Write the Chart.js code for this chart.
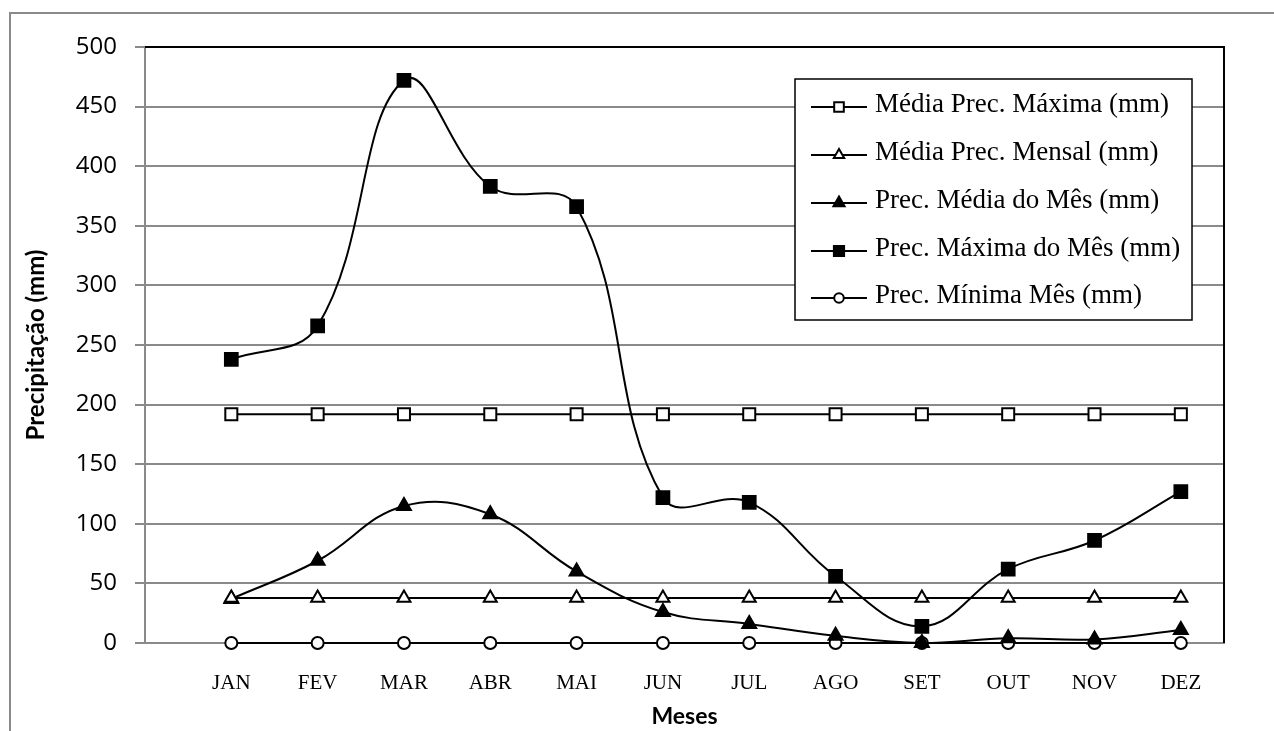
<!DOCTYPE html>
<html><head><meta charset="utf-8">
<script src="https://cdn.jsdelivr.net/npm/chart.js@4.4.1/dist/chart.umd.min.js"></script>
<style>html,body{margin:0;padding:0;background:#fff}canvas{display:block}</style>
</head><body>
<canvas id="c" width="1274" height="731"></canvas>
<script>
const months = ['JAN','FEV','MAR','ABR','MAI','JUN','JUL','AGO','SET','OUT','NOV','DEZ'];
const mediaPrecMaxima = [192,192,192,192,192,192,192,192,192,192,192,192];
const mediaPrecMensal = [37.7,37.7,37.7,37.7,37.7,37.7,37.7,37.7,37.7,37.7,37.7,37.7];
const precMediaMes   = [37,69,115,108,60,26,16,6,0,4,3,11];
const precMaximaMes  = [238,266,472,383,366,122,118,56,14,62,86,127];
const precMinimaMes  = [0,0,0,0,0,0,0,0,0,0,0,0];
const yTicks = [0,50,100,150,200,250,300,350,400,450,500];
const seriesNames = ['Média Prec. Máxima (mm)','Média Prec. Mensal (mm)','Prec. Média do Mês (mm)','Prec. Máxima do Mês (mm)','Prec. Mínima Mês (mm)'];

const pts = arr => arr.map((v,i)=>({x:i+1,y:v}));
const base = {borderColor:'#000',borderWidth:2,pointBorderColor:'#000',pointBorderWidth:2,clip:false,fill:false};

const datasets = [
  Object.assign({}, base, {label:seriesNames[0], data:pts(mediaPrecMaxima), tension:0, pointStyle:'rect', pointRadius:8.5, pointBackgroundColor:'#fff', pointBorderWidth:2}),
  Object.assign({}, base, {label:seriesNames[1], data:pts(mediaPrecMensal), tension:0, pointStyle:'triangle', pointRadius:7.5, pointBackgroundColor:'#fff', pointBorderWidth:2}),
  Object.assign({}, base, {label:seriesNames[2], data:pts(precMediaMes), tension:0.4, pointStyle:'triangle', pointRadius:8, pointBackgroundColor:'#000'}),
  Object.assign({}, base, {label:seriesNames[3], data:pts(precMaximaMes), tension:0.4, pointStyle:'rect', pointRadius:9, pointBackgroundColor:'#000'}),
  Object.assign({}, base, {label:seriesNames[4], data:pts(precMinimaMes), tension:0, pointStyle:'circle', pointRadius:6, pointBackgroundColor:'#fff', pointBorderWidth:2})
];

const framePlugin = {
  id:'frame',
  beforeDraw(chart){
    const ctx = chart.ctx;
    ctx.save();
    ctx.fillStyle = '#fff';
    ctx.fillRect(0,0,chart.width,chart.height);
    ctx.strokeStyle = '#8a8a8a';
    ctx.lineWidth = 2;
    ctx.strokeRect(10,13,1400,900);
    ctx.restore();
  },
  beforeDatasetsDraw(chart){
    const {ctx, chartArea:a} = chart;
    ctx.save();
    ctx.strokeStyle = '#000';
    ctx.lineWidth = 2;
    ctx.beginPath();
    ctx.moveTo(a.left, a.top);
    ctx.lineTo(a.right, a.top);
    ctx.lineTo(a.right, a.bottom);
    ctx.stroke();
    ctx.restore();
  },
  afterDraw(chart){
    const ctx = chart.ctx;
    const bx = 795, by = 79, bw = 397, bh = 241;
    ctx.save();
    ctx.fillStyle = '#fff';
    ctx.fillRect(bx,by,bw,bh);
    ctx.strokeStyle = '#000';
    ctx.lineWidth = 1.5;
    ctx.strokeRect(bx,by,bw,bh);
    const rows = [107,155,203,251,298];
    chart.data.datasets.forEach((ds,i)=>{
      const y = rows[i];
      ctx.strokeStyle = '#000';
      ctx.lineWidth = 2;
      ctx.beginPath();
      ctx.moveTo(811,y); ctx.lineTo(867,y); ctx.stroke();
      ctx.fillStyle = ds.pointBackgroundColor;
      ctx.lineWidth = ds.pointBorderWidth;
      Chart.helpers.drawPoint(ctx, {pointStyle:ds.pointStyle, radius:ds.pointRadius*0.8, rotation:0, borderWidth:ds.pointBorderWidth}, 839, y);
      ctx.fillStyle = '#000';
      ctx.font = '27px "Liberation Serif", "Times New Roman", serif';
      ctx.textBaseline = 'middle';
      ctx.textAlign = 'left';
      ctx.fillText(ds.label, 875, y-2);
    });
    ctx.restore();
  }
};

new Chart(document.getElementById('c'), {
  type:'line',
  data:{datasets},
  plugins:[framePlugin],
  options:{
    responsive:false,
    animation:false,
    devicePixelRatio:1,
    layout:{padding:{left:0,top:47,right:50,bottom:0}},
    plugins:{legend:{display:false},tooltip:{enabled:false}},
    scales:{
      x:{
        type:'linear', min:0, max:12.5,
        afterBuildTicks(s){ s.ticks = months.map((m,i)=>({value:i+1})); },
        afterFit(s){ s.height = 88; },
        ticks:{autoSkip:false, maxRotation:0, color:'#000', padding:28,
          font:{family:'"Liberation Serif", "Times New Roman", serif', size:21},
          callback:(v)=>months[v-1] || ''},
        grid:{display:false, drawTicks:false},
        border:{display:true, color:'#8a8a8a', width:2},
        title:{display:true, text:'Meses', color:'#000', padding:{top:0,bottom:1},
          font:{family:'Lato, "Open Sans", sans-serif', size:23, weight:'bold'}}
      },
      y:{
        min:0, max:500,
        afterBuildTicks(s){ s.ticks = yTicks.map(v=>({value:v})); },
        afterFit(s){ s.width = 145; },
        ticks:{color:'#000', padding:18,
          font:{family:'"Open Sans", sans-serif', size:24}},
        grid:{color:'#8a8a8a', lineWidth:2, tickLength:10, drawTicks:true},
        border:{display:true, color:'#8a8a8a', width:2},
        title:{display:true, text:'Precipitação (mm)', color:'#000', padding:{top:22,bottom:0},
          font:{family:'Lato, "Open Sans", sans-serif', size:24, weight:'bold'}}
      }
    }
  }
});
</script>
</body></html>
